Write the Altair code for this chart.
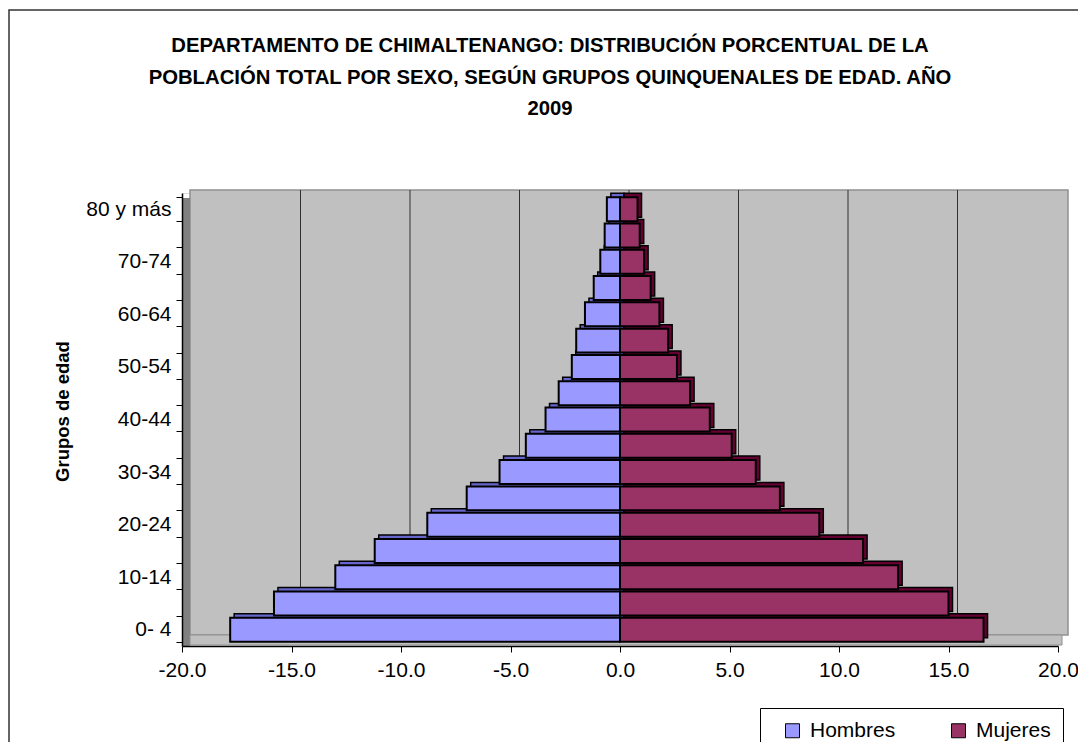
import altair as alt
import pandas as pd

titulo = ["DEPARTAMENTO DE CHIMALTENANGO: DISTRIBUCIÓN PORCENTUAL DE LA",
          "POBLACIÓN TOTAL POR SEXO, SEGÚN GRUPOS QUINQUENALES DE EDAD. AÑO",
          "2009"]
grupos = ["0- 4", "5- 9", "10-14", "15-19", "20-24", "25-29", "30-34", "35-39",
          "40-44", "45-49", "50-54", "55-59", "60-64", "65-69", "70-74", "75-79", "80 y más"]
hombres = [-17.8, -15.8, -13.0, -11.2, -8.8, -7.0, -5.5, -4.3, -3.4, -2.8, -2.2, -2.0,
           -1.6, -1.2, -0.9, -0.7, -0.6]
mujeres = [16.6, 15.0, 12.7, 11.1, 9.1, 7.3, 6.2, 5.1, 4.1, 3.2, 2.6, 2.2, 1.8, 1.4, 1.1, 0.9, 0.8]
series = ["Hombres", "Mujeres"]
colores = ["#9999FF", "#993366"]
colores_osc = ["#6666CC", "#660033"]
etiquetas = ["0- 4", "10-14", "20-24", "30-34", "40-44", "50-54", "60-64", "70-74", "80 y más"]
x_ticks = [-20, -15, -10, -5, 0, 5, 10, 15, 20]
grid_vals = [-15, -10, -5, 0, 5, 10, 15]

W, H = 876, 453

rows = []
for g, h, m in zip(grupos, hombres, mujeres):
    rows.append({"grupo": g, "sexo": "Hombres", "valor": h})
    rows.append({"grupo": g, "sexo": "Mujeres", "valor": m})
df = pd.DataFrame(rows)
grid_df = pd.DataFrame({"v": grid_vals})
one = pd.DataFrame({"k": [0]})
title_df = pd.DataFrame({"t": ["\n".join(titulo)]})

xscale = alt.Scale(domain=[-20, 20], nice=False, zero=False)
yscale = alt.Scale(paddingInner=0.09, paddingOuter=0.16)
order_top = grupos[::-1]

lab_expr = "indexof(" + str(etiquetas) + ", datum.value) >= 0 ? datum.label : ''"
x_lab_expr = "(datum.value < 0 ? '-' : '') + format(abs(datum.value), '.1f')"

frame = alt.Chart(one).mark_rect(fill="transparent", stroke="#333333", strokeWidth=1.5).encode(
    x=alt.value(-173), x2=alt.value(W + 60), y=alt.value(-183), y2=alt.value(H + 140))

title_layer = alt.Chart(title_df).mark_text(
    font="Liberation Sans", fontSize=20.3, fontWeight="bold", color="black",
    lineBreak="\n", lineHeight=31.7, align="center", baseline="middle"
).encode(text="t:N", x=alt.value(368), y=alt.value(-147))

wall = alt.Chart(one).mark_rect(fill="#C0C0C0", stroke="#909090", strokeWidth=1.5).encode(
    x=alt.value(8), x2=alt.value(W + 10), y=alt.value(-3), y2=alt.value(H - 11))
left_wall = alt.Chart(one).mark_rect(fill="#808080").encode(
    x=alt.value(0), x2=alt.value(8), y=alt.value(5), y2=alt.value(H))
floor = alt.Chart(one).mark_rect(fill="#C0C0C0", stroke="#909090", strokeWidth=1).encode(
    x=alt.value(8), x2=alt.value(W + 4), y=alt.value(H - 11), y2=alt.value(H - 1))

grid = alt.Chart(grid_df).mark_rule(color="#303030", strokeWidth=1, xOffset=9).encode(
    x=alt.X("v:Q", scale=xscale),
    y=alt.value(-3), y2=alt.value(H - 11))

back = alt.Chart(df).mark_bar(stroke="black", strokeWidth=1.5, xOffset=4, yOffset=-4).encode(
    x=alt.X("valor:Q", scale=xscale),
    y=alt.Y("grupo:N", sort=order_top, scale=yscale),
    color=alt.Color("sexo:N", scale=alt.Scale(domain=series, range=colores_osc), legend=None),
)

front = alt.Chart(df).mark_bar(stroke="black", strokeWidth=2).encode(
    x=alt.X("valor:Q", scale=xscale,
            axis=alt.Axis(values=x_ticks, labelExpr=x_lab_expr, title=None, grid=False, zindex=2,
                          labelFontSize=21, labelColor="black", labelFont="Liberation Sans",
                          tickColor="black", tickSize=6, domainColor="black", domainWidth=1.5,
                          labelPadding=7, labelFlush=False)),
    y=alt.Y("grupo:N", sort=order_top, scale=yscale,
            axis=alt.Axis(title="Grupos de edad", labelExpr=lab_expr, labelOverlap=False, zindex=2,
                          labelFontSize=21, labelColor="black", labelFont="Liberation Sans",
                          tickColor="black", tickSize=6, tickBand="extent", domainColor="black",
                          domainWidth=1.5, labelPadding=5, titleFontSize=18.5,
                          titleFont="Liberation Sans", titleFontWeight="bold", titleColor="black",
                          titleX=-120, titleY=218, titleAngle=-90,
                          titleAlign="center", titleBaseline="middle")),
    color=alt.Color("sexo:N", scale=alt.Scale(domain=series, range=colores),
                    legend=alt.Legend(title=None, orient="none", direction="horizontal",
                                      legendX=578, legendY=515, padding=12, zindex=2,
                                      strokeColor="black", fillColor="white",
                                      symbolType="square", symbolSize=196,
                                      symbolStrokeColor="black", symbolStrokeWidth=1,
                                      symbolOpacity=1, symbolOffset=10, labelOffset=7,
                                      labelFontSize=21, labelFont="Liberation Sans",
                                      labelColor="black", columnPadding=42)),
)

chart = alt.layer(frame, title_layer, wall, left_wall, floor, grid, back, front).resolve_scale(
    color="independent"
).properties(
    width=W, height=H,
    autosize=alt.AutoSizeParams(type="none"),
    padding={"left": 174, "top": 185, "right": 20, "bottom": 96},
).configure_view(stroke=None).configure(background="white")

chart.save("out.html", embed_options={"renderer": "svg", "actions": False})
